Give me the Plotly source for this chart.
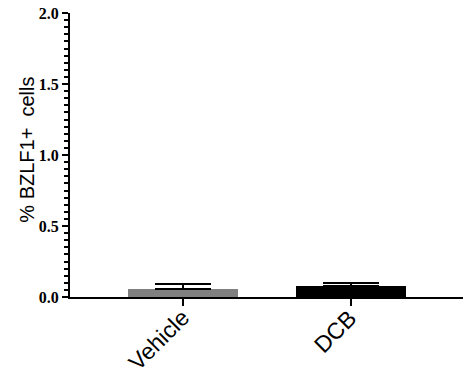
import plotly.graph_objects as go

categories = ["Vehicle", "DCB"]
means = [0.056, 0.080]
errors = [0.034, 0.017]
bar_colors = ["#808080", "#000000"]
y_tick_vals = [0.0, 0.5, 1.0, 1.5, 2.0]
y_tick_text = ["0.0", "0.5", "1.0", "1.5", "2.0"]
y_title = "% BZLF1+\u00a0\u00a0cells"

fig = go.Figure()
fig.add_trace(go.Bar(
    x=categories,
    y=means,
    width=0.66,
    marker=dict(color=bar_colors, line=dict(width=0)),
    error_y=dict(type="data", array=errors, symmetric=False,
                 arrayminus=[0] * len(errors),
                 color="black", thickness=2, width=28),
))

fig.update_layout(
    width=473, height=379,
    margin=dict(l=70, r=10, t=13, b=82),
    paper_bgcolor="white", plot_bgcolor="white",
    showlegend=False,
    bargap=0,
)
fig.add_annotation(
    text=y_title, textangle=-90,
    xref="paper", yref="paper", x=-0.11, y=0.518,
    xanchor="center", yanchor="middle", showarrow=False,
    font=dict(family="Liberation Sans, Arial", size=20, color="black"),
)
# rotated category labels, anchored under each category tick
for cat in categories:
    fig.add_annotation(
        text=cat, textangle=-45,
        xref="x", yref="paper", x=cat, y=0,
        xanchor="right", yanchor="top", xshift=14, yshift=-5,
        showarrow=False,
        font=dict(family="Liberation Sans, Arial", size=23, color="black"),
    )
fig.update_xaxes(
    range=[-0.673, 1.667],
    automargin=False,
    showline=True, linecolor="black", linewidth=2,
    ticks="outside", ticklen=7, tickwidth=2, tickcolor="black",
    showticklabels=False,
    showgrid=False, zeroline=False,
)
fig.update_yaxes(
    range=[0, 2.0],
    automargin=False,
    tickvals=y_tick_vals, ticktext=y_tick_text,
    showline=True, linecolor="black", linewidth=2,
    ticks="outside", ticklen=6, tickwidth=2, tickcolor="black",
    minor=dict(dtick=0.05, ticks="outside", ticklen=4, tickwidth=1.5, tickcolor="black", showgrid=False),
    tickfont=dict(family="Liberation Serif, Times New Roman", size=16, color="black", weight="bold"),
    showgrid=False, zeroline=False,
)

fig.write_html("out.html", config={"displayModeBar": False},
               post_script="document.body.style.margin='0';")
